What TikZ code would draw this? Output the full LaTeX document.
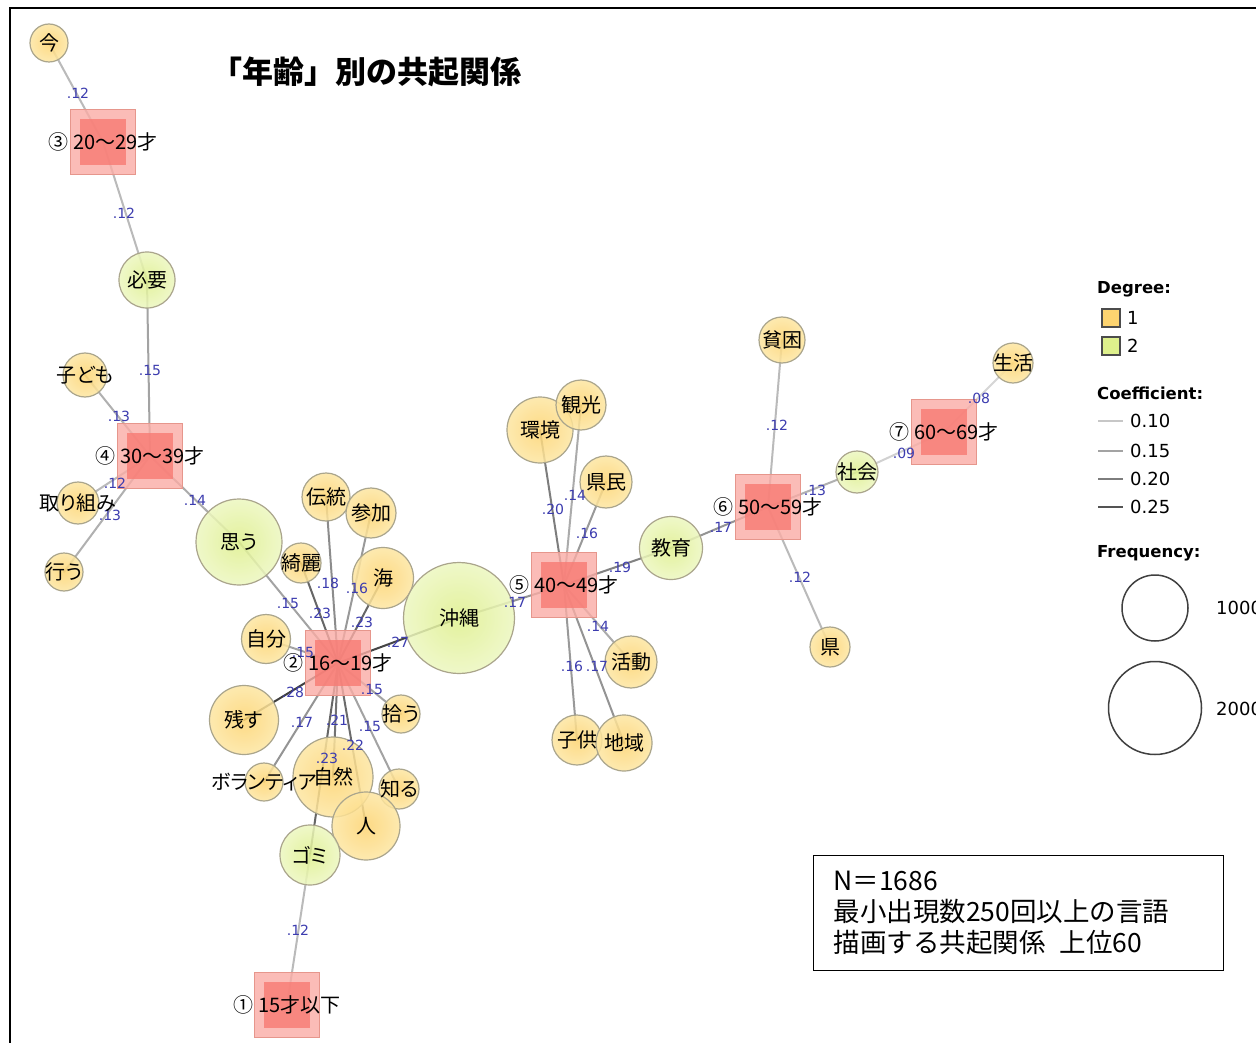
\documentclass[tikz,border=0pt]{standalone}
\usepackage{fontspec}
\setmainfont{Noto Sans CJK JP}[RawFeature=+palt]
\newfontfamily\ttl{Noto Sans CJK JP}
\newfontfamily\lgd{DejaVu Sans}
\pgfdeclarelayer{edges}
\pgfsetlayers{edges,main}

\definecolor{orgin}{RGB}{253,212,112}
\definecolor{orgout}{RGB}{253,230,162}
\definecolor{grnin}{RGB}{222,240,140}
\definecolor{grnout}{RGB}{237,247,192}
\definecolor{ring}{RGB}{170,165,140}
\definecolor{sqout}{RGB}{250,172,165}
\definecolor{sqin}{RGB}{248,122,115}
\definecolor{sqline}{RGB}{230,150,140}
\definecolor{coefblue}{RGB}{60,60,175}

\tikzset{
	word/.style={circle, draw=ring, line width=1.2, fill opacity=0.85, inner sep=0pt},
	deg1/.style={word, inner color=orgin, outer color=orgout},
	deg2/.style={word, inner color=grnin, outer color=grnout},
	wlabel/.style={font=\fontsize{20}{22}\selectfont, inner sep=0pt},
	agebox/.style={rectangle, minimum size=65, inner sep=0pt, fill=sqout, draw=sqline,
		line width=1, fill opacity=0.8,
		path picture={\fill[sqin] ([xshift=-23pt,yshift=-23pt]path picture bounding box.center)
			rectangle ([xshift=23pt,yshift=23pt]path picture bounding box.center);}},
	edge/.style={line width=2, line cap=round},
	coef/.style={font=\lgd\fontsize{14}{14}\selectfont, text=coefblue, inner sep=0pt},
	lgdhead/.style={font=\lgd\bfseries\fontsize{16.5}{18}\selectfont, anchor=west, inner sep=0pt},
	lgdtext/.style={font=\lgd\fontsize{18}{20}\selectfont, anchor=west, inner sep=0pt},
	legsq/.style={rectangle, draw=black!70, line width=1.2, minimum size=18, inner sep=0pt}
}

% age groups
\def\agelist{a20/103/142/③ 20～29才, a30/150/456/④ 30～39才,
	a16/338/663/② 16～19才, a15/287/1005/① 15才以下, a40/564/585/⑤ 40～49才,
	a50/768/507/⑥ 50～59才, a60/944/432/⑦ 60～69才}
% words, degree 1
\def\onelist{now/49/43/38/今, kids/85/375/44/子ども,
	tackle/78/503/42/取り組み, doing/64/572/38/行う, trad/326/497/48/伝統,
	join/371/513/50/参加, clean/301/563/40/綺麗, sea/383/578/61/海,
	self/266/639/49/自分, leave/244/720/69/残す, pick/401/714/38/拾う,
	volun/264/782/38/ボランティア, nature/333/777/80/自然, know/399/789/40/知る,
	people/366/826/68/人, env/540/430/66/環境, tour/581/405/50/観光,
	citizen/606/482/52/県民, act/631/662/52/活動, child/577/740/50/子供,
	region/624/743/56/地域, poverty/782/340/46/貧困, pref/830/647/40/県,
	life/1013/363/40/生活}
% words, degree 2
\def\twolist{need/147/280/56/必要, think/239/542/86/思う,
	okinawa/459/618/111/沖縄, trash/310/855/60/ゴミ, edu/671/548/63/教育,
	society/857/472/42/社会}

\def\edgelist{now/a20/.12/78/93, a20/need/.12/124/213, need/a30/.15/150/370,
	kids/a30/.13/119/416, tackle/a30/.12/115/483, doing/a30/.13/110/515,
	a30/think/.14/195/500, think/a16/.15/288/603, clean/a16/.23/320/613,
	trad/a16/.18/328/583, join/a16/.16/357/588, sea/a16/.23/362/622,
	self/a16/.15/303/652, okinawa/a16/.27/398/642, a16/leave/.28/293/692,
	a16/pick/.15/372/689, a16/volun/.17/302/722, a16/nature/.21/337/720,
	a16/people/.22/353/745, a16/trash/.23/327/758, a16/know/.15/370/726,
	trash/a15/.12/298/930, okinawa/a40/.17/515/602, env/a40/.20/553/509,
	tour/a40/.14/575/495, citizen/a40/.16/587/533, a40/edu/.19/620/567,
	a40/act/.14/598/626, a40/child/.16/572/666, a40/region/.17/597/666,
	edu/a50/.17/721/527, poverty/a50/.12/777/425, a50/pref/.12/800/577,
	a50/society/.13/815/490, society/a60/.09/904/453, a60/life/.08/979/398}

\begin{document}
\begin{tikzpicture}[x=1pt,y=-1pt]
	\useasboundingbox (0,0) rectangle (1256,1043);
	\draw[line width=1.5] (10,1043) -- (10,8) -- (1256,8);
	\node[font=\ttl\bfseries\fontsize{31}{33}\selectfont] (title) at (366,72) {「年齢」別の共起関係};

	% shapes first, texts afterwards
	\foreach \n/\x/\y/\t in \agelist
	\node[agebox] (\n) at (\x,\y) {};
	\foreach \n/\x/\y/\d/\t in \onelist
	\node[deg1, minimum size=\d] (\n) at (\x,\y) {};
	\foreach \n/\x/\y/\d/\t in \twolist
	\node[deg2, minimum size=\d] (\n) at (\x,\y) {};

	% co-occurrence edges
	\begin{pgfonlayer}{edges}
		\fill[white] (0,0) rectangle (1256,1043);
		\foreach \a/\b/\c/\lx/\ly in \edgelist {
			\pgfmathtruncatemacro\sh{300*\c-8}
			\draw[edge, draw=black!\sh] (\a.center) -- (\b.center);
		}
	\end{pgfonlayer}
	\foreach \a/\b/\c/\lx/\ly in \edgelist
	\node[coef] (c-\a-\b) at (\lx,\ly) {\c};

	\foreach \n/\x/\y/\t in \agelist
	\node[wlabel] (t-\n) at (\n.center) {\t};
	\foreach \n/\x/\y/\d/\t in \onelist
	\node[wlabel] (t-\n) at (\n.center) {\t};
	\foreach \n/\x/\y/\d/\t in \twolist
	\node[wlabel] (t-\n) at (\n.center) {\t};

	% legend
	\node[lgdhead] (degH) at (1097,289) {Degree:};
	\node[legsq, fill=orgin] (key1) at (1111,318) {};
	\node[lgdtext] (key1t) at (1127,318) {1};
	\node[legsq, fill=grnin] (key2) at (1111,346) {};
	\node[lgdtext] (key2t) at (1127,346) {2};
	\node[lgdhead] (coefH) at (1097,393) {Coefficient:};
	\foreach \c/\y in {.10/421, .15/451, .20/479, .25/507} {
		\pgfmathtruncatemacro\sh{300*\c-8}
		\draw[line width=2, draw=black!\sh] (1098,\y) -- (1123,\y);
		\node[lgdtext] (lc\y) at (1130,\y) {0\c};
	}
	\node[lgdhead] (freqH) at (1097,553) {Frequency:};
	\node[circle, draw=black!75, line width=1.5, minimum size=66] (f1000) at (1155,608) {};
	\node[lgdtext] (f1000t) at (1216,608) {1000};
	\node[circle, draw=black!75, line width=1.5, minimum size=93] (f2000) at (1155,708) {};
	\node[lgdtext] (f2000t) at (1216,709) {2000};

	% notes
	\node[draw, line width=1.2, anchor=north west, minimum width=410, minimum height=115,
		text width=370, inner xsep=20, align=left,
		font=\ttl\fontsize{26.5}{31}\selectfont] (info) at (813,855)
		{N＝1686\\最小出現数250回以上の言語\\描画する共起関係\hspace{14pt}上位60};
\end{tikzpicture}
\end{document}
